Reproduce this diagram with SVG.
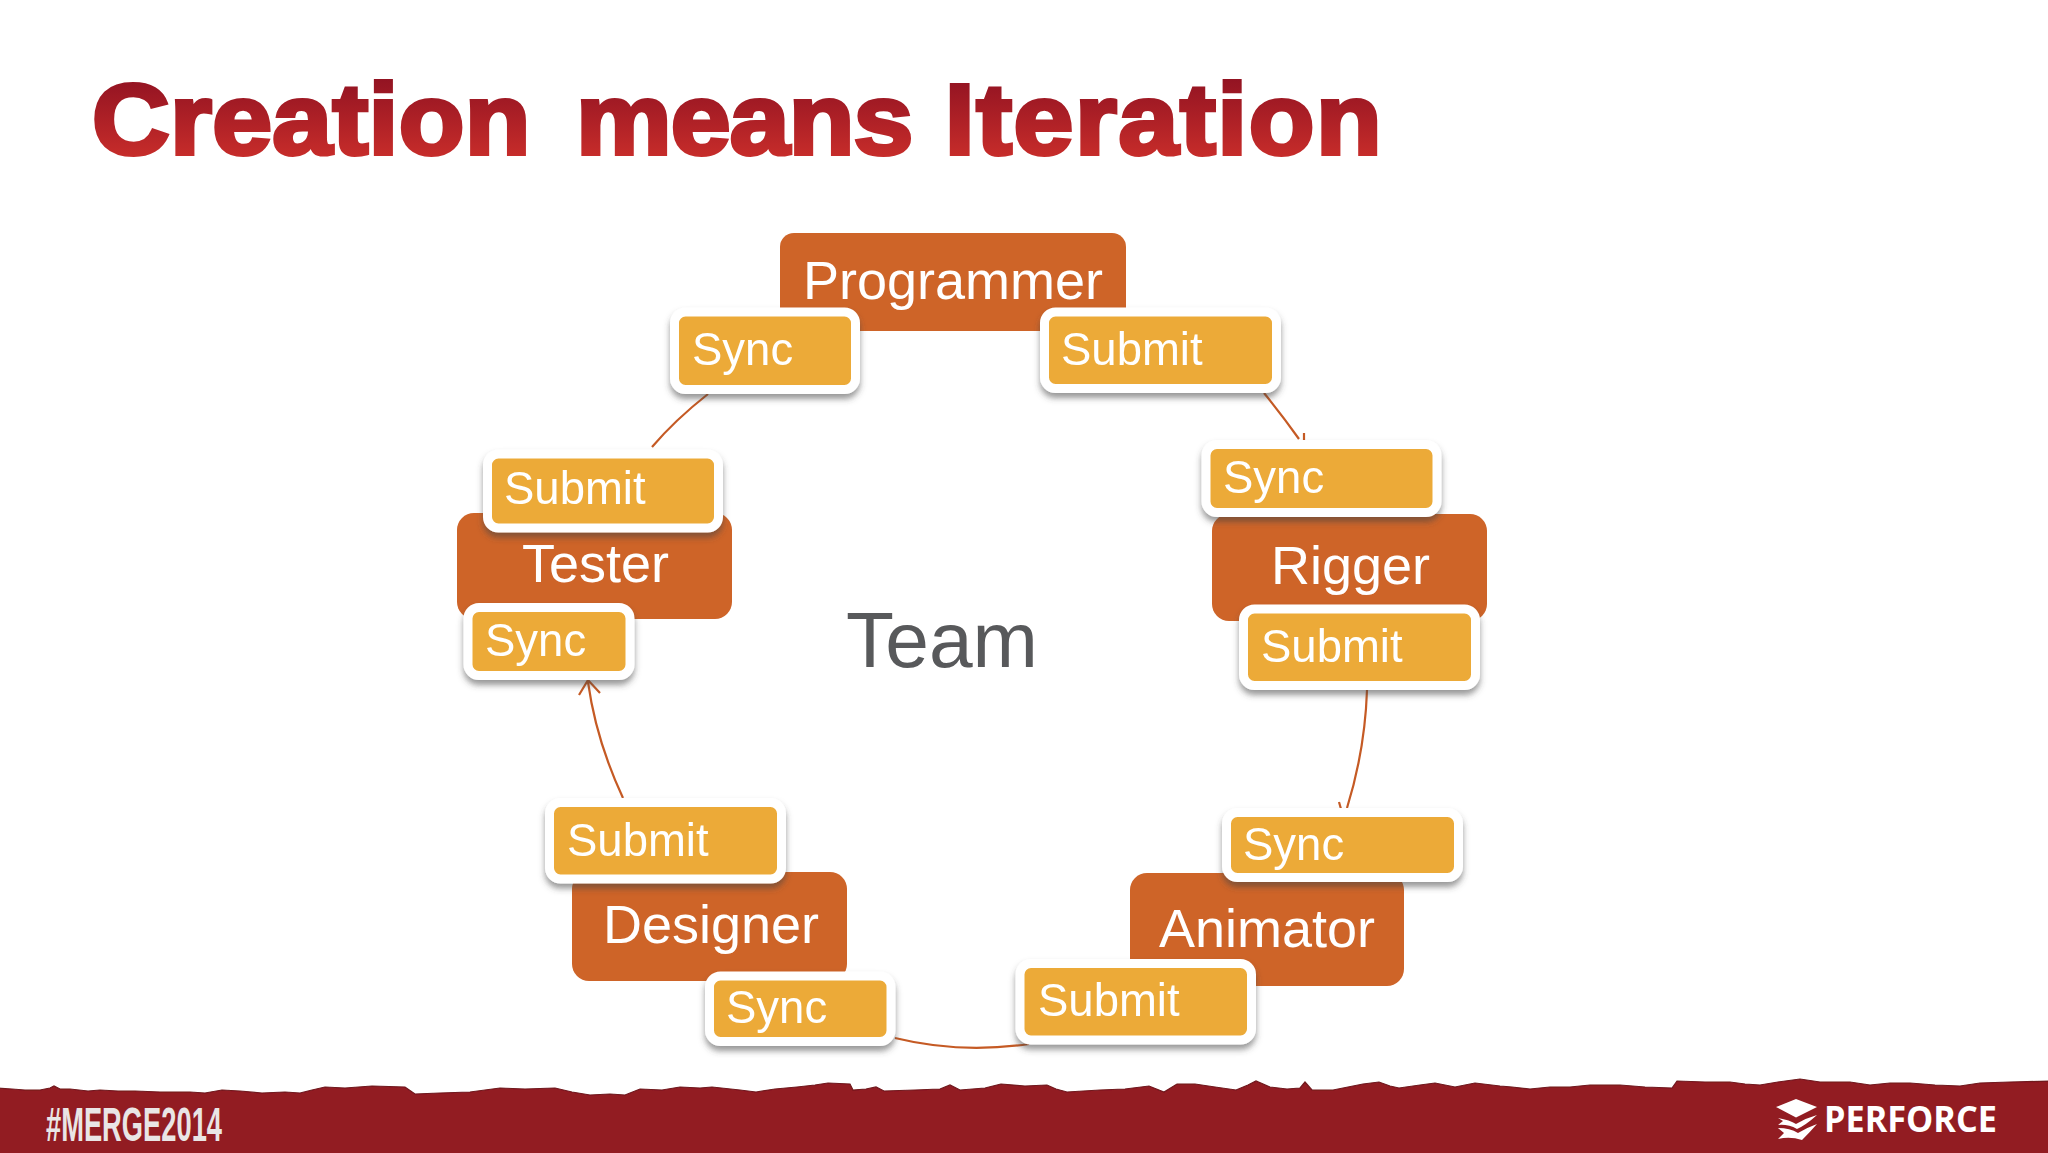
<svg xmlns="http://www.w3.org/2000/svg" width="2048" height="1153" viewBox="0 0 2048 1153">
<style>
.role{fill:#ce6428}
.role-t{font:54px "Liberation Sans",Arial,sans-serif;fill:#fff}
.step{fill:#ecaa37;stroke:#fff;stroke-width:9}
.step-g{filter:url(#sh)}
.step-t{font:45.500px "Liberation Sans",Arial,sans-serif;fill:#fff}
.link{fill:none;stroke:#c55a24;stroke-width:2.2}
</style>
<defs>
<linearGradient id="tg" gradientUnits="userSpaceOnUse" x1="0" y1="-76" x2="0" y2="2"><stop offset="0" stop-color="#921322"/><stop offset="1" stop-color="#c62c2a"/></linearGradient>
<filter id="sh" x="-10%" y="-15%" width="120%" height="140%"><feDropShadow dx="0" dy="5" stdDeviation="3" flood-color="#444" flood-opacity=".55"/></filter>
<filter id="soft" x="-1%" y="-20%" width="102%" height="140%"><feGaussianBlur stdDeviation=".6"/></filter>
</defs>
<rect width="2048" height="1153" fill="#fff"/>
<g id="title"><text transform="translate(92 154) scale(1.065 1)" x="0" y="0" font-family="Liberation Sans,Arial,sans-serif" font-weight="700" font-size="101" fill="url(#tg)" stroke="url(#tg)" stroke-width="4" stroke-linejoin="miter"><tspan letter-spacing=".3">Creation </tspan><tspan dx="14" letter-spacing="-.8">means </tspan><tspan dx="3" letter-spacing="1.500">Iteration</tspan></text></g>
<g id="footer">
<path filter="url(#soft)" fill="#921a23" stroke="#6f1a1c" stroke-width="1.200" d="M-5,1088 L12,1089 25,1090 40,1090 50,1088 54,1086 60,1089 70,1089 88,1091 100,1090 118,1091 135,1091 160,1092 190,1092 205,1093 222,1090 240,1091 262,1093 285,1092 300,1093 312,1090 325,1087 345,1088 372,1086 405,1087 415,1094 440,1093 470,1092 485,1090 500,1088 525,1089 555,1088 572,1092 590,1095 610,1094 625,1095 640,1089 662,1090 680,1087 700,1088 712,1087 740,1090 756,1092 775,1089 797,1087 815,1085 828,1083 850,1084 853,1090 866,1089 876,1087 884,1091 915,1090 940,1089 950,1085 960,1090 985,1088 1001,1084 1025,1086 1047,1085 1056,1089 1067,1092 1100,1090 1125,1089 1149,1086 1164,1092 1177,1084 1195,1084 1215,1087 1236,1090 1248,1085 1256,1081 1270,1087 1287,1089 1300,1088 1305,1082 1312,1090 1333,1090 1348,1087 1363,1084 1379,1082 1390,1086 1399,1088 1420,1085 1435,1083 1455,1087 1475,1083 1500,1086 1512,1087 1530,1089 1550,1087 1570,1087 1590,1085 1620,1085 1645,1087 1672,1088 1677,1081 1705,1082 1730,1082 1745,1084 1760,1085 1778,1082 1800,1079 1820,1082 1850,1082 1870,1085 1890,1083 1910,1083 1935,1085 1960,1086 1980,1083 2010,1082 2053,1081 L2053,1158 L-5,1158 Z"/>
<text x="46" y="1141" font-family="Liberation Sans,Arial,sans-serif" font-weight="700" font-size="48" textLength="176" lengthAdjust="spacingAndGlyphs" fill="#e9e5e5">#MERGE2014</text>
<path fill="#fff" d="M1776,1107 L1796,1099 1817,1107 1796,1117.500 Z M1778,1118 Q1790,1120 1796,1124 Q1806,1118 1817,1115 Q1806,1125 1797,1129 Q1788,1124 1778,1125 L1783,1121 Z M1778,1139 Q1790,1136 1802,1140 Q1810,1132 1817,1124 Q1806,1128 1798,1133 Q1790,1128 1778,1128 L1784,1133 Z"/>
<text x="1824" y="1132" font-family="Open Sans,Liberation Sans,sans-serif" font-weight="700" font-size="36" textLength="173" lengthAdjust="spacingAndGlyphs" fill="#fff">PERFORCE</text>
</g>
<g id="connectors">
<path class="link" d="M708,394 Q675,420 652,447"/>
<path class="link" d="M1264,393 Q1282,415 1299,439 M1304,433 L1304,440"/>
<path class="link" d="M1367,690 Q1365,750 1347,808 M1339,802 L1341,809"/>
<path class="link" d="M1029,1044 Q960,1054 895,1038"/>
<path class="link" d="M623,798 Q596,740 588,682 M579,695 L588,680 L600,693"/>
</g>
<text id="team" x="846" y="667" font-family="Liberation Sans,Arial,sans-serif" font-size="78.500" fill="#58595b">Team</text>
<g id="programmer"><rect class="role" x="780" y="233" width="346" height="98" rx="14"/><text class="role-t" x="803" y="298.500">Programmer</text></g>
<g id="rigger"><rect class="role" x="1212" y="514" width="275" height="107" rx="17"/><text class="role-t" x="1271" y="584">Rigger</text></g>
<g id="animator"><rect class="role" x="1130" y="873" width="274" height="113" rx="17"/><text class="role-t" x="1159" y="946.500">Animator</text></g>
<g id="designer"><rect class="role" x="572" y="872" width="275" height="109" rx="17"/><text class="role-t" x="603" y="943">Designer</text></g>
<g id="tester"><rect class="role" x="457" y="513" width="275" height="106" rx="17"/><text class="role-t" x="522" y="581.500">Tester</text></g>
<g id="sync-programmer" class="step-g"><rect class="step" x="674.500" y="312" width="181" height="77.500" rx="11"/><text class="step-t" x="692" y="365">Sync</text></g>
<g id="submit-programmer" class="step-g"><rect class="step" x="1044.500" y="312" width="232" height="76.500" rx="11"/><text class="step-t" x="1061" y="365">Submit</text></g>
<g id="sync-rigger" class="step-g"><rect class="step" x="1206" y="444.500" width="231" height="68" rx="11"/><text class="step-t" x="1223" y="493">Sync</text></g>
<g id="submit-rigger" class="step-g"><rect class="step" x="1243.500" y="609" width="232" height="76.500" rx="11"/><text class="step-t" x="1261" y="661.500">Submit</text></g>
<g id="sync-animator" class="step-g"><rect class="step" x="1226.500" y="812.500" width="232" height="65" rx="11"/><text class="step-t" x="1243" y="860">Sync</text></g>
<g id="submit-animator" class="step-g"><rect class="step" x="1020" y="963.500" width="231.500" height="76.500" rx="11"/><text class="step-t" x="1038" y="1016">Submit</text></g>
<g id="sync-designer" class="step-g"><rect class="step" x="709.500" y="976" width="181.500" height="65.500" rx="11"/><text class="step-t" x="726" y="1023">Sync</text></g>
<g id="submit-designer" class="step-g"><rect class="step" x="549.500" y="802.500" width="232" height="76.500" rx="11"/><text class="step-t" x="567" y="855.500">Submit</text></g>
<g id="submit-tester" class="step-g"><rect class="step" x="487.500" y="454" width="231" height="74" rx="11"/><text class="step-t" x="504" y="504">Submit</text></g>
<g id="sync-tester" class="step-g"><rect class="step" x="468" y="607.500" width="162" height="68" rx="11"/><text class="step-t" x="485" y="656">Sync</text></g>
</svg>
